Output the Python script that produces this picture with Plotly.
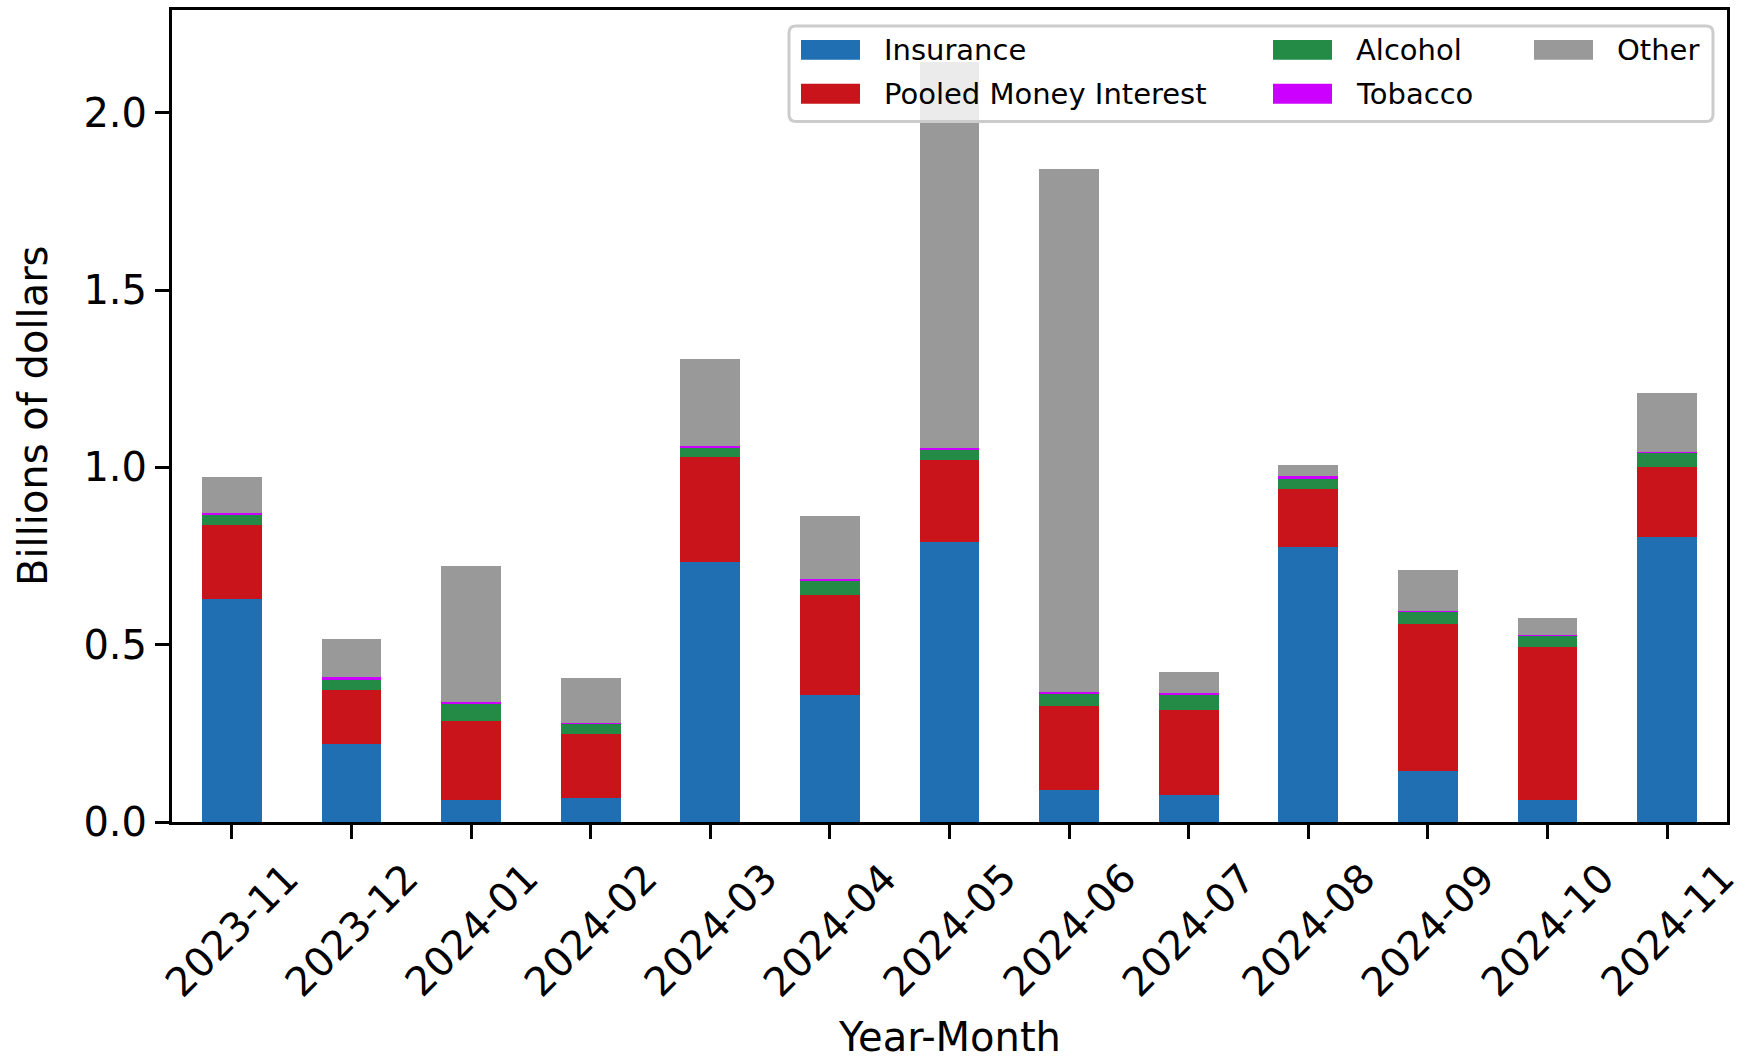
import plotly.graph_objects as go

# ---------------- data ----------------
months = ["2023-11", "2023-12", "2024-01", "2024-02", "2024-03", "2024-04", "2024-05",
          "2024-06", "2024-07", "2024-08", "2024-09", "2024-10", "2024-11"]
insurance = [0.630, 0.221, 0.063, 0.068, 0.734, 0.358, 0.790, 0.090, 0.077, 0.776, 0.145, 0.063, 0.805]
pooled_money_interest = [0.207, 0.150, 0.223, 0.179, 0.294, 0.283, 0.230, 0.238, 0.238, 0.164, 0.413, 0.430, 0.195]
alcohol = [0.029, 0.030, 0.047, 0.030, 0.026, 0.038, 0.029, 0.033, 0.043, 0.030, 0.035, 0.032, 0.041]
tobacco = [0.006, 0.007, 0.005, 0.002, 0.007, 0.006, 0.007, 0.007, 0.006, 0.005, 0.002, 0.002, 0.002]
other = [0.100, 0.108, 0.384, 0.126, 0.246, 0.178, 1.088, 1.474, 0.058, 0.032, 0.117, 0.047, 0.168]

series_names = ["Insurance", "Pooled Money Interest", "Alcohol", "Tobacco", "Other"]
series_values = [insurance, pooled_money_interest, alcohol, tobacco, other]
series_colors = ["#1f6fb2", "#c8141a", "#238b45", "#cc00ff", "#999999"]

y_ticks = [0.0, 0.5, 1.0, 1.5, 2.0]

# ---------------- layout geometry (pixels) ----------------
W, H = 1745, 1063
ML, MR, MT, MB = 172, 18, 7, 241
L, R, T, B = ML, W - MR, MT, H - MB
FONT = "DejaVu Sans"


def px(X):
    return (X - L) / (R - L)


def py(Y):
    return (B - Y) / (B - T)


fig = go.Figure()
for name, vals, col in zip(series_names, series_values, series_colors):
    fig.add_trace(go.Bar(x=months, y=vals, name=name, marker=dict(color=col, line=dict(width=0)),
                         showlegend=False))

annotations = []
# rotated x tick labels (centred on tick, like matplotlib rotation=45)
for m in months:
    annotations.append(dict(x=m, y=0, xref="x", yref="paper", text=m, showarrow=False,
                            textangle=-45, xanchor="center", yanchor="middle",
                            yshift=-108, font=dict(family=FONT, size=40, color="black")))
# axis titles
annotations.append(dict(x=0.5, y=0, xref="paper", yref="paper", text="Year-Month", showarrow=False,
                        xanchor="center", yanchor="middle", yshift=-(1037 - B),
                        font=dict(family=FONT, size=40, color="black")))
annotations.append(dict(x=0, y=0.5, xref="paper", yref="paper", text="Billions of dollars",
                        showarrow=False, textangle=-90, xanchor="center", yanchor="middle",
                        xshift=-(L - 33), font=dict(family=FONT, size=40, color="black")))

# legend (matplotlib-style, 3 columns, column-major)
shapes = []
bx0, bx1, by0, by1 = 789, 1713, 23, 119
r = 7
path = (f"M {px(bx0 + r)},{py(by0)} L {px(bx1 - r)},{py(by0)} "
        f"Q {px(bx1)},{py(by0)} {px(bx1)},{py(by0 + r)} "
        f"L {px(bx1)},{py(by1 - r)} Q {px(bx1)},{py(by1)} {px(bx1 - r)},{py(by1)} "
        f"L {px(bx0 + r)},{py(by1)} Q {px(bx0)},{py(by1)} {px(bx0)},{py(by1 - r)} "
        f"L {px(bx0)},{py(by0 + r)} Q {px(bx0)},{py(by0)} {px(bx0 + r)},{py(by0)} Z")
shapes.append(dict(type="path", xref="paper", yref="paper", path=path,
                   fillcolor="rgba(255,255,255,0.8)", line=dict(color="#cccccc", width=3),
                   layer="above"))
col_x = [801, 1273, 1534]
row_y = [47, 91]
for i, (name, col) in enumerate(zip(series_names, series_colors)):
    cx = col_x[i // 2]
    cy = row_y[i % 2]
    shapes.append(dict(type="rect", xref="paper", yref="paper",
                       x0=px(cx), x1=px(cx + 59), y0=py(cy + 10), y1=py(cy - 10),
                       fillcolor=col, line=dict(width=0), layer="above"))
    annotations.append(dict(x=px(cx + 81), y=py(cy), xref="paper", yref="paper", text=name,
                            showarrow=False, xanchor="left", yanchor="middle",
                            font=dict(family=FONT, size=29, color="black")))

fig.update_layout(
    width=W, height=H,
    margin=dict(l=ML, r=MR, t=MT, b=MB, pad=0),
    paper_bgcolor="white", plot_bgcolor="white",
    barmode="stack", bargap=0.5,
    font=dict(family=FONT, size=40, color="black"),
    showlegend=False,
    annotations=annotations,
    shapes=shapes,
)
fig.update_xaxes(type="category", range=[-0.5, len(months) - 0.5], showticklabels=False,
                 ticks="outside", ticklen=14, tickwidth=3, tickcolor="black",
                 showline=True, linewidth=3, linecolor="black", mirror=True,
                 showgrid=False, zeroline=False)
fig.update_yaxes(range=[0, 2.29], tickvals=y_ticks, ticktext=[f"{v:.1f}" for v in y_ticks],
                 ticks="outside", ticklen=14, tickwidth=3, tickcolor="black",
                 tickfont=dict(family=FONT, size=40, color="black"),
                 showline=True, linewidth=3, linecolor="black", mirror=True,
                 showgrid=False, zeroline=False)

fig.write_html("out.html", config={"displayModeBar": False},
               post_script="document.body.style.margin='0';document.body.style.overflow='hidden';")
